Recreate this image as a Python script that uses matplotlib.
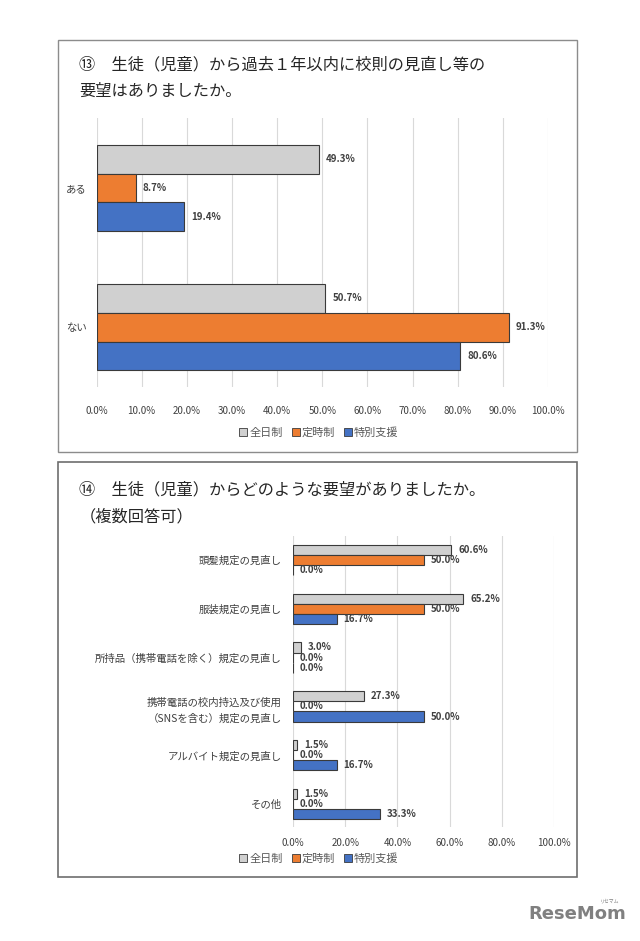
import numpy as np
import matplotlib
matplotlib.use("Agg")
import matplotlib.pyplot as plt
from matplotlib.patches import Patch, Rectangle

plt.rcParams['font.family'] = ['Noto Sans CJK JP', 'DejaVu Sans']

# ===== データ =====
series_names = ['全日制', '定時制', '特別支援']
colors = ['#D0D0D0', '#ED7D31', '#4472C4']

cats1 = ['ある', 'ない']
zen1 = [49.3, 50.7]
tei1 = [8.7, 91.3]
tok1 = [19.4, 80.6]

cats2 = ['頭髪規定の見直し', '服装規定の見直し', '所持品（携帯電話を除く）規定の見直し',
         '携帯電話の校内持込及び使用\n（SNSを含む）規定の見直し', 'アルバイト規定の見直し', 'その他']
zen2 = [60.6, 65.2, 3.0, 27.3, 1.5, 1.5]
tei2 = [50.0, 50.0, 0.0, 0.0, 0.0, 0.0]
tok2 = [0.0, 16.7, 0.0, 50.0, 16.7, 33.3]

title1 = '⑬　生徒（児童）から過去１年以内に校則の見直し等の\n要望はありましたか。'
title2 = '⑭　生徒（児童）からどのような要望がありましたか。'
title2b = '（複数回答可）'

W, H = 640, 941
fig = plt.figure(figsize=(W / 100, H / 100), dpi=100)


def px_axes(x0, y0, x1, y1):
    return fig.add_axes([x0 / W, 1 - y1 / H, (x1 - x0) / W, (y1 - y0) / H])


def draw_panel(ax, cats, vals, xticks, ylim, xpad, ypad, cat_fs):
    y = np.arange(len(cats))
    h = 0.207
    for i, (v, c) in enumerate(zip(vals, colors)):
        bars = ax.barh(y + (i - 1) * h, v, height=h, color=c, edgecolor='#3a3a3a',
                       linewidth=0.8, zorder=3)
        ax.bar_label(bars, labels=[f'{x:.1f}%' for x in v], padding=5,
                     fontsize=7, fontweight='bold', color='#404040')
    ax.set_xlim(0, 100)
    ax.set_ylim(*ylim)
    ax.set_xticks(xticks)
    ax.set_xticklabels([f'{t:.1f}%' for t in xticks], fontsize=7, color='#404040')
    ax.set_yticks(y)
    ax.set_yticklabels(cats, fontsize=cat_fs, color='#404040', linespacing=1.7)
    ax.tick_params(axis='x', length=0, pad=xpad)
    ax.tick_params(axis='y', length=0, pad=ypad)
    ax.grid(axis='x', color='#D9D9D9', linewidth=0.8, zorder=0)
    for s in ax.spines.values():
        s.set_visible(False)
    ax.set_facecolor('none')


def add_legend(cx, cy):
    handles = [Patch(facecolor=c, edgecolor='#3a3a3a', linewidth=0.6) for c in colors]
    fig.legend(handles, series_names, loc='center', bbox_to_anchor=(cx / W, 1 - cy / H),
               ncol=3, frameon=False, fontsize=8, handlelength=0.7, handleheight=0.7,
               handletextpad=0.2, columnspacing=0.8, labelcolor='#595959')


# パネル枠
fig.patches.append(Rectangle((58 / W, 1 - 452 / H), 519 / W, 412 / H, transform=fig.transFigure,
                             fill=False, edgecolor='#8c8c8c', linewidth=1))
fig.patches.append(Rectangle((58 / W, 1 - 877 / H), 519 / W, 415 / H, transform=fig.transFigure,
                             fill=False, edgecolor='#6e6e6e', linewidth=1.2))

# ===== ⑬ =====
ax1 = px_axes(96.5, 118, 548, 387)
draw_panel(ax1, cats1, [zen1, tei1, tok1], np.arange(0, 101, 10), (1.43, -0.504),
           xpad=14, ypad=7, cat_fs=7.5)
fig.text(79 / W, 1 - 56 / H, title1, fontsize=11.7, va='top', ha='left',
         color='#262626', linespacing=1.75)
add_legend(319, 433)

# ===== ⑭ =====
ax2 = px_axes(293, 536, 554, 827)
draw_panel(ax2, cats2, [zen2, tei2, tok2], np.arange(0, 101, 20), (5.47, -0.49),
           xpad=8, ypad=8, cat_fs=7.5)
fig.text(79 / W, 1 - 490 / H, title2, fontsize=11.7, va='center', ha='left', color='#262626')
fig.text(80 / W, 1 - 517 / H, title2b, fontsize=11.7, va='center', ha='left', color='#262626')
add_legend(319, 859)

# ウォーターマーク
fig.text(577 / W, 1 - 914 / H, 'ReseMom', fontsize=13, fontweight='bold', color='#808080',
         ha='center', va='center', family='DejaVu Sans')
fig.text(610 / W, 1 - 901 / H, 'リセマム', fontsize=3.5, color='#808080', ha='center', va='center')

fig.savefig('out.png', dpi=100, facecolor='white')
